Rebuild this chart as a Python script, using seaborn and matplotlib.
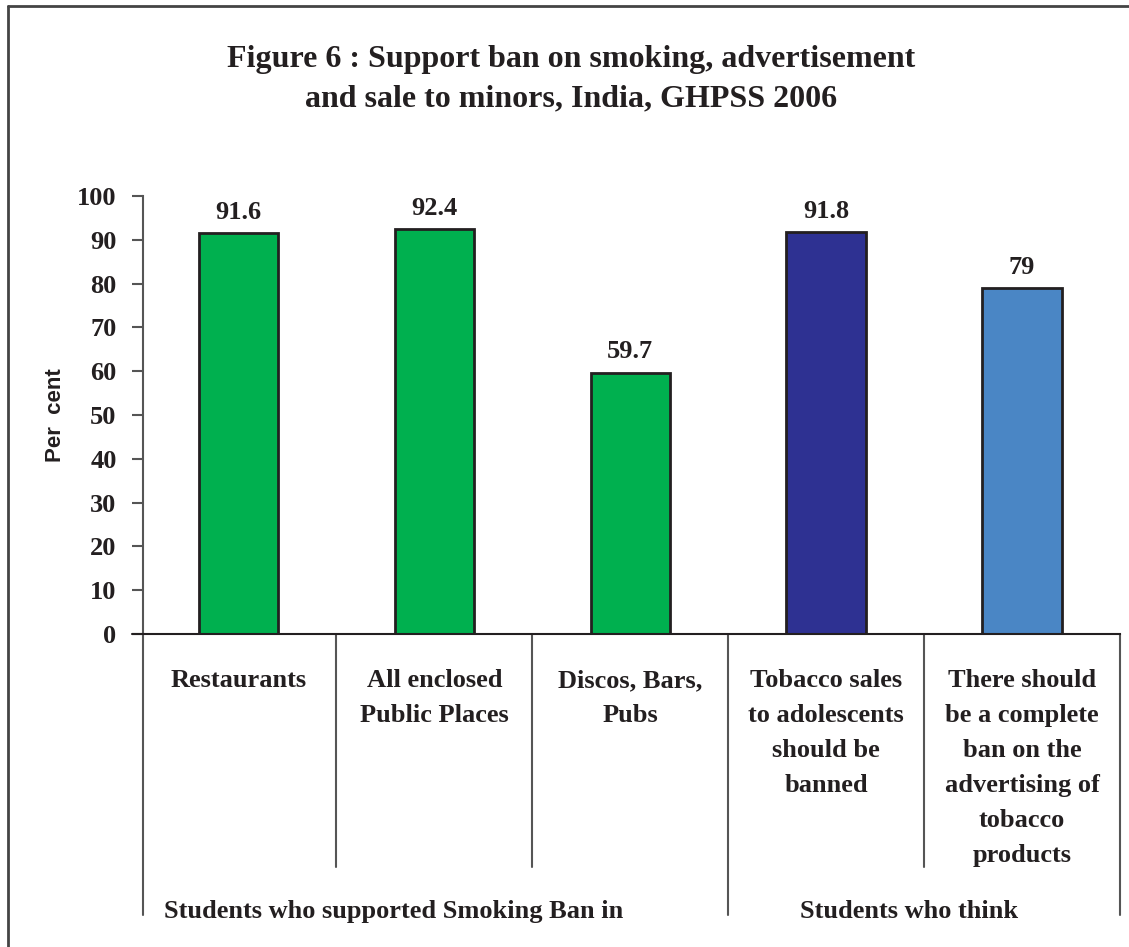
import matplotlib
matplotlib.use("Agg")
import matplotlib.pyplot as plt
from matplotlib.lines import Line2D
import seaborn as sns
import pandas as pd

# Data
categories = [
    "Restaurants",
    "All enclosed\nPublic Places",
    "Discos, Bars,\nPubs",
    "Tobacco sales\nto adolescents\nshould be\nbanned",
    "There should\nbe a complete\nban on the\nadvertising of\ntobacco\nproducts",
]
values = [91.6, 92.4, 59.7, 91.8, 79]
value_labels = ["91.6", "92.4", "59.7", "91.8", "79"]
bar_colors = ["#00B04F", "#00B04F", "#00B04F", "#2E3192", "#4A86C5"]
group_labels = ["Students who supported Smoking Ban in", "Students who think"]
y_ticks = [0, 10, 20, 30, 40, 50, 60, 70, 80, 90, 100]

sns.set_theme(style="white")
serif = ["Liberation Serif", "DejaVu Serif"]
plt.rcParams["font.family"] = serif

W, H = 1129, 947
fig = plt.figure(figsize=(W / 100, H / 100), dpi=100)
ax = fig.add_axes([143 / W, 1 - 634 / H, (1120 - 143) / W, (634 - 196) / H])

df = pd.DataFrame({"cat": categories, "val": values})
sns.barplot(data=df, x="cat", y="val", hue="cat", palette=bar_colors,
            legend=False, width=0.405, edgecolor="#231F20", linewidth=2,
            saturation=1, ax=ax)

x_left, x_right = -0.4875, 4.5
ax.set_xlim(x_left, x_right)
ax.set_ylim(0, 100)
ax.set_yticks(y_ticks)
ax.set_yticklabels([str(t) for t in y_ticks], fontsize=19, fontweight="bold",
                   color="#231F20", family=serif)
ax.tick_params(axis="y", which="major", left=True, length=8, width=1.5,
               color="#555555", pad=11)
ax.set_xticks([])
ax.set_xlabel("")
ax.set_ylabel("Per  cent", fontsize=16, fontweight="bold",
              family=["Liberation Sans", "DejaVu Sans"], color="#231F20")
ax.yaxis.set_label_coords(-0.079, 0.5)

for side in ["top", "right"]:
    ax.spines[side].set_visible(False)
ax.spines["left"].set_color("#555555")
ax.spines["left"].set_linewidth(1.5)
ax.spines["bottom"].set_color("#231F20")
ax.spines["bottom"].set_linewidth(1.5)

# x axis extends slightly left of the y axis
ax.plot([x_left - 0.056, x_left], [0, 0], color="#231F20", lw=1.5, clip_on=False)

# Value labels
for i, (v, lab) in enumerate(zip(values, value_labels)):
    ax.annotate(lab, (i, v), xytext=(0, 6.5), textcoords="offset points",
                ha="center", va="bottom", fontsize=19, fontweight="bold",
                color="#231F20")

# Category labels and separator lines below the axis
trans = ax.get_xaxis_transform()
for i, c in enumerate(categories):
    ax.text(i, -0.081, c, transform=trans, ha="center", va="top",
            fontsize=19, fontweight="bold", color="#231F20",
            linespacing=1.66, clip_on=False)

short_y = -(867 - 634) / 438
tall_y = -(915 - 634) / 438
for xb, bottom in [(x_left, tall_y), (0.5, short_y), (1.5, short_y),
                   (2.5, tall_y), (3.5, short_y), (4.5, tall_y)]:
    ax.plot([xb, xb], [0, bottom], transform=trans, color="#555555",
            lw=1.5, clip_on=False)

group_y = -(911 - 634) / 438
ax.text(0.79, group_y, group_labels[0], transform=trans, ha="center",
        va="center", fontsize=19, fontweight="bold", color="#231F20")
ax.text(3.425, group_y, group_labels[1], transform=trans, ha="center",
        va="center", fontsize=19, fontweight="bold", color="#231F20")

# Title
fig.text(571 / W, 1 - 59 / H, "Figure 6 : Support ban on smoking, advertisement",
         ha="center", va="center", fontsize=23, fontweight="bold", color="#231F20")
fig.text(571 / W, 1 - 99 / H, "and sale to minors, India, GHPSS 2006",
         ha="center", va="center", fontsize=23, fontweight="bold", color="#231F20")

# Outer frame (left and top edges)
fig.add_artist(Line2D([8 / W, 8 / W], [0, 1 - 6 / H], transform=fig.transFigure,
                      color="#444444", lw=2))
fig.add_artist(Line2D([8 / W, 1], [1 - 6 / H, 1 - 6 / H], transform=fig.transFigure,
                      color="#444444", lw=2))

fig.savefig("out.png", dpi=100)
